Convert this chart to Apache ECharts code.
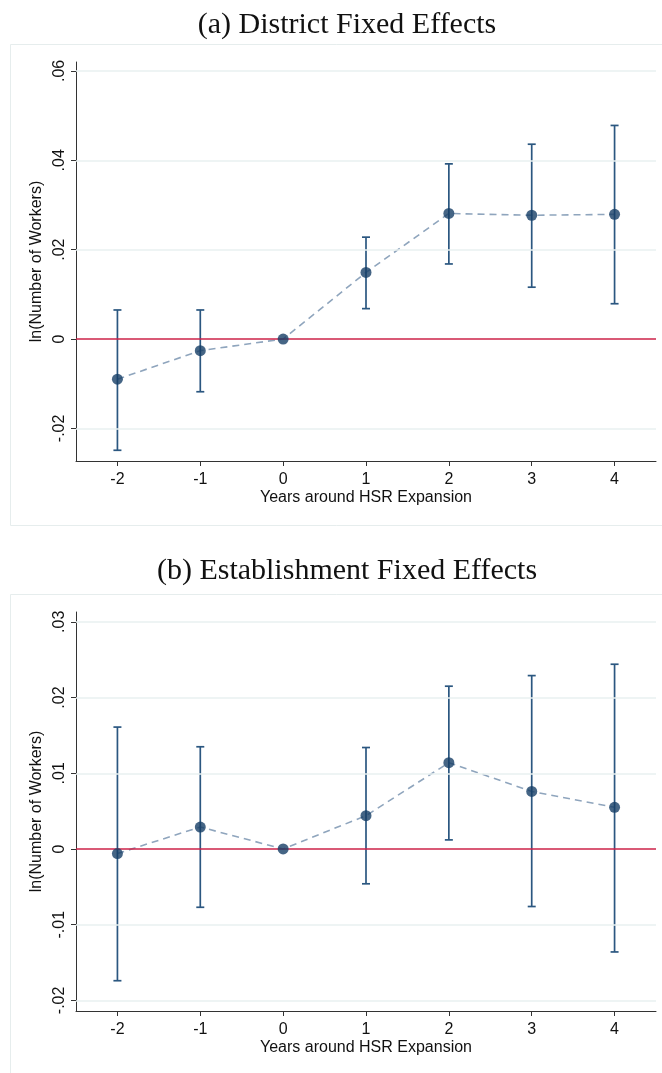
<!DOCTYPE html>
<html>
<head>
<meta charset="utf-8">
<script src="https://cdn.jsdelivr.net/npm/echarts@6/dist/echarts.min.js"></script>
<style>
html,body{margin:0;padding:0;background:#fff;}
#chart{width:662px;height:1073px;}
</style>
</head>
<body>
<div id="chart"></div>
<script>
// ---- data ----
const years = [-2, -1, 0, 1, 2, 3, 4];
const xTicks = [-2, -1, 0, 1, 2, 3, 4];
const xTickLabels = ['-2', '-1', '0', '1', '2', '3', '4'];

const titleA = '(a) District Fixed Effects';
const coefA = [-0.0090, -0.0026, 0, 0.0149, 0.0281, 0.0277, 0.0279];
const loA   = [-0.0249, -0.0118, 0, 0.0068, 0.0168, 0.0116, 0.0079];
const hiA   = [ 0.0065,  0.0065, 0, 0.0228, 0.0392, 0.0436, 0.0478];
const yTicksA = [-0.02, 0, 0.02, 0.04, 0.06];
const yTickLabelsA = ['-.02', '0', '.02', '.04', '.06'];

const titleB = '(b) Establishment Fixed Effects';
const coefB = [-0.0006, 0.0029, 0, 0.0044, 0.0114, 0.0076, 0.0055];
const loB   = [-0.0174, -0.0077, 0, -0.0046, 0.0012, -0.0076, -0.0136];
const hiB   = [ 0.0161,  0.0135, 0, 0.0134, 0.0215, 0.0229, 0.0244];
const yTicksB = [-0.02, -0.01, 0, 0.01, 0.02, 0.03];
const yTickLabelsB = ['-.02', '-.01', '0', '.01', '.02', '.03'];

const xName = 'Years around HSR Expansion';
const yName = 'ln(Number of Workers)';

// ---- styling ----
const NAVY = '#163f66';
const BAR = '#2b5780';
const DASH = '#8fa5bd';
const RED = '#cc2249';
const GRID = '#e8f0f1';
const AXIS = '#333333';
const SANS = '"Liberation Sans", Arial, Helvetica, sans-serif';
const SERIF = '"Liberation Serif", "Times New Roman", serif';

function labelFor(ticks, labels) {
  return function (v) {
    for (let i = 0; i < ticks.length; i++) {
      if (Math.abs(ticks[i] - v) < 1e-9) return labels[i];
    }
    return '';
  };
}

function xAxisDef(gi) {
  return {
    type: 'value', gridIndex: gi, min: -2.5, max: 4.5,
    axisLine: { show: true, onZero: false, lineStyle: { color: AXIS, width: 1 } },
    axisTick: { show: true, customValues: xTicks, length: 5, lineStyle: { color: AXIS } },
    axisLabel: { customValues: xTicks, formatter: labelFor(xTicks, xTickLabels),
      color: '#111', fontFamily: SANS, fontSize: 16, margin: 11 },
    splitLine: { show: false },
    name: xName, nameLocation: 'middle', nameGap: 29,
    nameTextStyle: { color: '#111', fontFamily: SANS, fontSize: 16 }
  };
}
function yAxisDef(gi, min, max, ticks, labels) {
  return {
    type: 'value', gridIndex: gi, min: min, max: max,
    axisLine: { show: true, onZero: false, lineStyle: { color: AXIS, width: 1 } },
    axisTick: { show: true, customValues: ticks, length: 5, lineStyle: { color: AXIS } },
    axisLabel: { customValues: ticks, formatter: labelFor(ticks, labels), rotate: 90,
      color: '#111', fontFamily: SANS, fontSize: 16, margin: 8 },
    splitLine: { show: false },
    name: yName, nameLocation: 'middle', nameGap: 31, nameRotate: 90,
    nameTextStyle: { color: '#111', fontFamily: SANS, fontSize: 16 }
  };
}

function seriesFor(gi, coef, lo, hi, ticks) {
  const pts = years.map((x, i) => [x, coef[i]]);
  const bars = years.map((x, i) => [x, lo[i], hi[i]]);
  return [
    { // gridlines
      type: 'line', xAxisIndex: gi, yAxisIndex: gi, data: [], silent: true, z: 1,
      markLine: { silent: true, symbol: 'none', label: { show: false }, animation: false,
        lineStyle: { color: GRID, width: 1.5, type: 'solid' },
        data: ticks.filter(t => t !== 0).map(t => ({ yAxis: t })) }
    },
    { // zero reference line
      type: 'line', xAxisIndex: gi, yAxisIndex: gi, data: [], silent: true, z: 2,
      markLine: { silent: true, symbol: 'none', label: { show: false }, animation: false,
        lineStyle: { color: RED, width: 1.7, type: 'solid' },
        data: [{ yAxis: 0 }] }
    },
    { // dashed connecting line
      type: 'line', xAxisIndex: gi, yAxisIndex: gi, data: pts, z: 3,
      showSymbol: false, animation: false,
      lineStyle: { color: DASH, width: 1.6, type: [7, 5] }
    },
    { // error bars
      type: 'custom', xAxisIndex: gi, yAxisIndex: gi, data: bars, z: 4, animation: false,
      renderItem: function (params, api) {
        const x = api.value(0), l = api.value(1), h = api.value(2);
        if (Math.abs(h - l) < 1e-12) return null;
        const pl = api.coord([x, l]), ph = api.coord([x, h]);
        const cw = 4;
        const st = { stroke: BAR, lineWidth: 1.7, fill: null };
        return { type: 'group', children: [
          { type: 'line', shape: { x1: pl[0], y1: pl[1], x2: ph[0], y2: ph[1] }, style: st },
          { type: 'line', shape: { x1: pl[0] - cw, y1: pl[1], x2: pl[0] + cw, y2: pl[1] }, style: st },
          { type: 'line', shape: { x1: ph[0] - cw, y1: ph[1], x2: ph[0] + cw, y2: ph[1] }, style: st }
        ]};
      }
    },
    { // markers
      type: 'scatter', xAxisIndex: gi, yAxisIndex: gi, data: pts, z: 5, animation: false,
      symbol: 'circle', symbolSize: 11, itemStyle: { color: NAVY }
    }
  ];
}

const chart = echarts.init(document.getElementById('chart'), null, { renderer: 'canvas' });
chart.setOption({
  backgroundColor: '#ffffff',
  animation: false,
  title: [
    { text: titleA, left: 342, top: 5, textAlign: 'center',
      textStyle: { fontFamily: SERIF, fontSize: 30, fontWeight: 'normal', color: '#111' } },
    { text: titleB, left: 342, top: 551, textAlign: 'center',
      textStyle: { fontFamily: SERIF, fontSize: 30, fontWeight: 'normal', color: '#111' } }
  ],
  graphic: [
    { type: 'rect', shape: { x: 10.5, y: 44.5, width: 700, height: 481 }, z: -10,
      style: { fill: '#ffffff', stroke: '#e6eded', lineWidth: 1 } },
    { type: 'rect', shape: { x: 10.5, y: 594.5, width: 700, height: 500 }, z: -10,
      style: { fill: '#ffffff', stroke: '#e6eded', lineWidth: 1 } }
  ],
  grid: [
    { left: 76, right: 6, top: 62, height: 399 },
    { left: 76, right: 6, top: 612, height: 399 }
  ],
  xAxis: [xAxisDef(0), xAxisDef(1)],
  yAxis: [
    yAxisDef(0, -0.0273, 0.062, yTicksA, yTickLabelsA),
    yAxisDef(1, -0.0214, 0.0313, yTicksB, yTickLabelsB)
  ],
  series: [].concat(seriesFor(0, coefA, loA, hiA, yTicksA), seriesFor(1, coefB, loB, hiB, yTicksB))
});
</script>
</body>
</html>
